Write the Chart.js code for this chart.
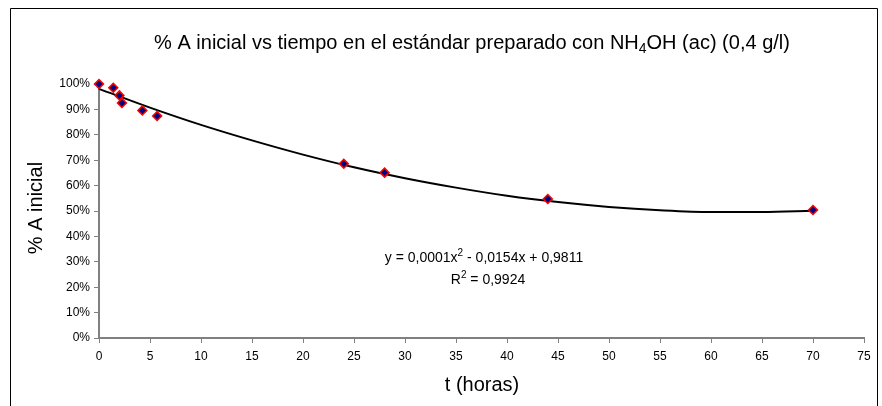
<!DOCTYPE html>
<html><head><meta charset="utf-8">
<script src="https://cdn.jsdelivr.net/npm/chart.js@4"></script>
<style>html,body{margin:0;padding:0;background:#fff}#wrap{width:882px;height:406px}</style>
</head><body><div id="wrap"><canvas id="c" width="882" height="406"></canvas></div>
<script>
// Measured points
const tHours = [0, 1.4, 2, 2.25, 4.25, 5.7, 24, 28, 44, 70];
const pctInicial = [1.00, 0.985, 0.955, 0.925, 0.896, 0.874, 0.686, 0.651, 0.547, 0.504];
// Trendline (Excel polynomial fit)
const trendT = [0, 5, 10, 15, 20, 25, 30, 35, 40, 45, 50, 55, 60, 65, 70];
const trendY = [0.981, 0.907, 0.839, 0.778, 0.722, 0.672, 0.629, 0.592, 0.560, 0.535, 0.516, 0.503, 0.496, 0.496, 0.501];
const yTicks = [0,0.1,0.2,0.3,0.4,0.5,0.6,0.7,0.8,0.9,1.0];
const xTicks = [0,5,10,15,20,25,30,35,40,45,50,55,60,65,70,75];

const FONT = 'Arial, "Liberation Sans", sans-serif';

function drawRich(ctx, parts, cx, y, size) {
  let w = 0;
  const meas = parts.map(p => {
    const s = (p.sup || p.sub) ? Math.round(size*0.7) : size;
    ctx.font = s + 'px ' + FONT;
    const m = ctx.measureText(p.t).width;
    w += m;
    return {p, s, m};
  });
  let x = cx - w/2;
  ctx.textAlign = 'left';
  ctx.textBaseline = 'alphabetic';
  meas.forEach(({p, s, m}) => {
    ctx.font = s + 'px ' + FONT;
    let yy = y;
    if (p.sup) yy = y - size*0.4;
    if (p.sub) yy = y + size*0.22;
    ctx.fillText(p.t, x, yy);
    x += m;
  });
}

const decor = {
  id: 'decor',
  beforeDraw(chart) {
    const ctx = chart.ctx;
    ctx.save();
    ctx.fillStyle = '#fff';
    ctx.fillRect(0,0,chart.width,chart.height);
    ctx.strokeStyle = '#000';
    ctx.lineWidth = 1;
    ctx.beginPath();
    ctx.moveTo(10.5, 420); ctx.lineTo(10.5, 8.5); ctx.lineTo(877.5, 8.5); ctx.lineTo(877.5, 420);
    ctx.stroke();
    ctx.restore();
  },
  afterDraw(chart) {
    const ctx = chart.ctx;
    ctx.save();
    ctx.fillStyle = '#000';
    drawRich(ctx, [
      {t:'% A inicial vs tiempo en el estándar preparado con NH'},
      {t:'4', sub:true},
      {t:'OH (ac) (0,4 g/l)'}
    ], 472, 49, 20);
    drawRich(ctx, [
      {t:'y = 0,0001x'}, {t:'2', sup:true}, {t:' - 0,0154x + 0,9811'}
    ], 484, 262, 14);
    drawRich(ctx, [
      {t:'R'}, {t:'2', sup:true}, {t:' = 0,9924'}
    ], 488, 284, 14);
    ctx.font = '20px ' + FONT;
    ctx.textAlign = 'center';
    ctx.textBaseline = 'middle';
    ctx.fillText('t (horas)', 482, 385);
    ctx.translate(36, 208);
    ctx.rotate(-Math.PI/2);
    ctx.fillText('% A inicial', 0, 0);
    ctx.restore();
  }
};

new Chart(document.getElementById('c'), {
  type: 'scatter',
  data: {
    datasets: [
      {
        label: 'datos',
        data: tHours.map((t,i) => ({x:t, y:pctInicial[i]})),
        pointStyle: 'rectRot',
        pointRadius: 4.5,
        pointBackgroundColor: '#000080',
        pointBorderColor: '#ff0000',
        pointBorderWidth: 1.5,
        showLine: false,
        clip: false,
        order: 1
      },
      {
        label: 'tendencia',
        data: trendT.map((t,i) => ({x:t, y:trendY[i]})),
        showLine: true,
        borderColor: '#000',
        borderWidth: 2,
        pointRadius: 0,
        tension: 0.4,
        cubicInterpolationMode: 'monotone',
        clip: false,
        order: 2
      }
    ]
  },
  options: {
    responsive: false,
    animation: false,
    devicePixelRatio: 1,
    layout: { padding: { left: 0, top: 84, right: 18, bottom: 0 } },
    plugins: { legend: {display:false}, title: {display:false}, tooltip: {enabled:false} },
    scales: {
      x: {
        type: 'linear', min: 0, max: 75,
        afterBuildTicks: s => { s.ticks = xTicks.map(v => ({value:v})); },
        afterFit: s => { s.height = 406 - 338; },
        border: { display: true, color: '#808080', width: 2 },
        grid: { display: true, drawOnChartArea: false, drawTicks: true, tickLength: 5, color: '#808080', lineWidth: 1 },
        ticks: { color: '#000', font: { family: FONT, size: 12 }, padding: 6, maxRotation: 0, autoSkip: false }
      },
      y: {
        type: 'linear', min: 0, max: 1,
        afterBuildTicks: s => { s.ticks = yTicks.map(v => ({value:v})); },
        afterFit: s => { s.width = 99; },
        border: { display: true, color: '#808080', width: 2 },
        grid: { display: true, drawOnChartArea: false, drawTicks: true, tickLength: 5, color: '#808080', lineWidth: 1 },
        ticks: { color: '#000', font: { family: FONT, size: 12 }, padding: 4, autoSkip: false,
          callback: v => Math.round(v*100) + '%' }
      }
    }
  },
  plugins: [decor]
});
</script>
</body></html>
